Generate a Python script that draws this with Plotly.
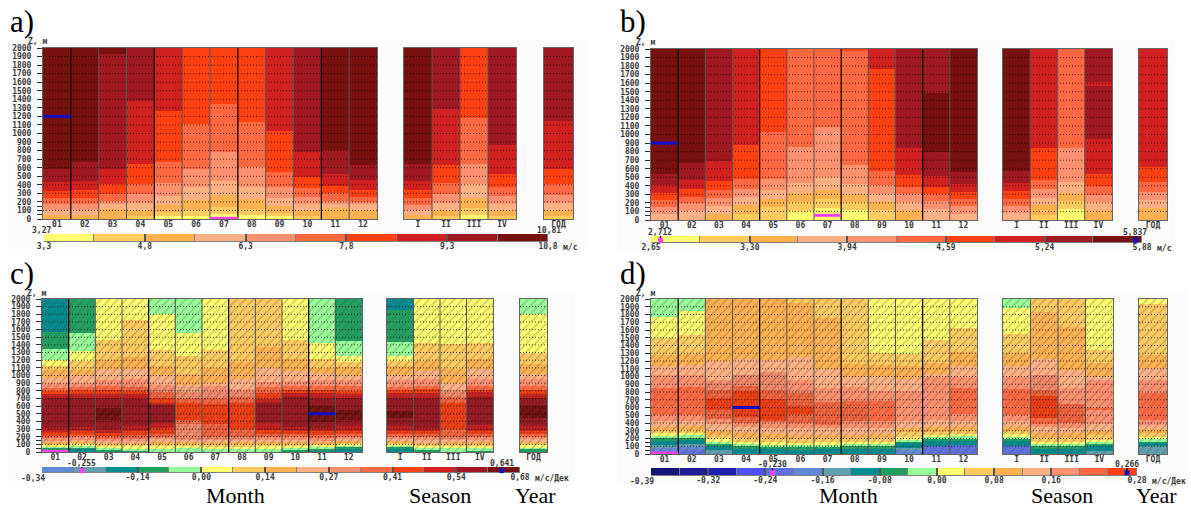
import plotly.graph_objects as go

W, H = 1191, 508

# ---- colour classes ----
PALETTE = {-10: "#14147A", -9: "#201A96", -8: "#2020B0", -7: "#5050FF", -6: "#6070E0", -5: "#6088D8",
           -4: "#60A0B0", -3: "#008C90", -2: "#20A060", -1: "#98FF98",
           0: "#FFFF70", 1: "#FFCB5E", 2: "#FFB04F", 3: "#FFB085", 4: "#FF9070", 5: "#FF6840",
           6: "#FF4010", 7: "#D02020", 8: "#A01822", 9: "#781010"}

MONTHS = ["01", "02", "03", "04", "05", "06", "07", "08", "09", "10", "11", "12"]
SEASONS = ["I", "II", "III", "IV"]
YEAR = ["ГОД"]
Z_TICKS = list(range(0, 2001, 100))

# ---- panel a: (class, top of layer in m) ----
A_MONTHS = [
    [(2,50),(3,110),(4,170),(5,240),(6,330),(7,430),(8,590),(9,2000)],
    [(2,50),(3,110),(4,170),(5,245),(6,340),(7,450),(8,670),(9,2000)],
    [(2,115),(3,175),(4,210),(5,295),(6,415),(7,590),(8,1925),(9,2000)],
    [(1,40),(2,105),(3,190),(4,290),(5,415),(6,645),(7,1380),(8,2000)],
    [(0,30),(1,80),(2,160),(3,270),(4,420),(5,670),(6,1265),(7,2000)],
    [(0,40),(1,110),(2,225),(3,375),(4,585),(5,1110),(6,2000)],
    [(0,60),(1,140),(2,280),(3,445),(4,780),(5,1340),(6,2000)],
    [(0,50),(1,115),(2,235),(3,380),(4,610),(5,1140),(6,2000)],
    [(0,30),(1,70),(2,155),(3,250),(4,380),(5,555),(6,1030),(7,2000)],
    [(1,40),(2,100),(3,180),(4,260),(5,360),(6,490),(7,780),(8,2000)],
    [(2,125),(3,180),(4,215),(5,300),(6,390),(7,525),(8,810),(9,2000)],
    [(2,110),(3,180),(4,200),(5,260),(6,345),(7,455),(8,635),(9,2000)],
]
A_SEASONS = [
    [(2,45),(3,100),(4,165),(5,245),(6,340),(7,450),(8,640),(9,2000)],
    [(1,30),(2,105),(3,190),(4,295),(5,425),(6,635),(7,1290),(8,2000)],
    [(0,50),(1,125),(2,245),(3,410),(4,640),(5,1185),(6,2000)],
    [(1,30),(2,100),(3,180),(4,270),(5,375),(6,525),(7,870),(8,2000)],
]
A_YEAR = [[(1,30),(2,105),(3,190),(4,285),(5,410),(6,590),(7,1150),(8,2000)]]

# ---- panel b ----
B_MONTHS = [
    [(3,65),(4,155),(5,235),(6,315),(7,405),(8,535),(9,2000)],
    [(3,110),(4,200),(5,270),(6,365),(7,470),(8,670),(9,2000)],
    [(2,70),(3,165),(4,260),(5,350),(6,460),(7,685),(8,2000)],
    [(1,70),(2,170),(3,270),(4,360),(5,485),(6,880),(7,2000)],
    [(1,150),(2,245),(3,350),(4,485),(5,1025),(6,2000)],
    [(0,110),(1,205),(2,310),(3,430),(4,855),(5,2000)],
    [(0,135),(1,240),(2,350),(3,500),(4,1085),(5,2000)],
    [(0,115),(1,210),(2,305),(3,420),(4,640),(5,1975),(6,2000)],
    [(1,115),(2,210),(3,300),(4,415),(5,575),(6,1770),(7,2000)],
    [(2,115),(3,215),(4,300),(5,390),(6,525),(7,845),(8,2000)],
    [(3,130),(4,225),(5,300),(6,390),(7,520),(8,790),(9,1480),(8,2000)],
    [(3,70),(4,165),(5,245),(6,330),(7,420),(8,565),(9,2000)],
]
B_SEASONS = [
    [(3,80),(4,165),(5,250),(6,340),(7,430),(8,570),(9,2000)],
    [(1,60),(2,170),(3,260),(4,360),(5,470),(6,845),(7,2000)],
    [(0,125),(1,220),(2,320),(3,450),(4,845),(5,2000)],
    [(2,115),(3,205),(4,295),(5,400),(6,540),(7,950),(8,1565),(7,1615),(8,2000)],
]
B_YEAR = [[(2,140),(3,235),(4,330),(5,440),(6,625),(7,2000)]]

# ---- panel c ----
C_MONTHS = [
    [(-3,35),(-2,60),(-1,75),(0,95),(1,115),(2,135),(3,155),(4,180),(5,215),(6,260),(7,320),(8,710),(7,760),(6,800),(5,840),(4,900),(3,970),(2,1070),(1,1130),(0,1200),(-1,1340),(-2,1570),(-3,2000)],
    [(-3,40),(-2,65),(-1,80),(0,105),(1,125),(2,145),(3,165),(4,190),(5,225),(6,270),(7,330),(8,700),(7,760),(6,810),(5,855),(4,900),(3,990),(2,1075),(1,1190),(0,1320),(-1,1550),(-2,2000)],
    [(-2,30),(-1,50),(0,80),(1,110),(2,130),(3,150),(4,175),(5,210),(6,250),(7,300),(8,420),(9,570),(8,700),(7,760),(6,810),(5,860),(4,940),(3,1090),(2,1200),(1,1470),(0,2000)],
    [(-2,25),(-1,45),(0,75),(1,105),(2,125),(3,150),(4,180),(5,220),(6,270),(7,340),(8,690),(7,760),(6,800),(5,850),(4,950),(3,1090),(2,1240),(1,1720),(0,2000)],
    [(-1,45),(0,75),(1,110),(2,135),(3,165),(4,200),(5,240),(6,310),(7,380),(8,620),(7,640),(6,705),(5,780),(4,880),(3,1010),(2,1130),(1,1330),(0,1800),(-1,2000)],
    [(-1,50),(0,80),(1,110),(2,130),(3,160),(4,360),(5,420),(6,640),(5,700),(4,790),(3,880),(2,1020),(1,1250),(0,1550),(-1,2000)],
    [(-1,50),(0,70),(1,100),(2,125),(3,155),(4,200),(5,370),(6,630),(5,700),(4,860),(3,900),(2,1100),(1,1330),(0,2000)],
    [(-1,45),(0,70),(1,110),(2,130),(3,160),(4,200),(5,300),(6,640),(5,720),(4,830),(3,960),(2,1180),(1,2000)],
    [(-1,45),(0,75),(1,105),(2,130),(3,160),(4,190),(5,240),(6,290),(7,380),(8,640),(7,690),(6,770),(5,850),(4,920),(3,1100),(2,1370),(1,2000)],
    [(-2,30),(-1,50),(0,80),(1,105),(2,130),(3,160),(4,190),(5,230),(6,270),(7,330),(8,720),(7,770),(6,810),(5,860),(4,930),(3,1060),(2,1210),(1,1460),(0,2000)],
    [(-3,25),(-2,50),(-1,70),(0,95),(1,115),(2,135),(3,155),(4,180),(5,220),(6,270),(7,320),(8,390),(9,600),(8,700),(7,770),(6,810),(5,860),(4,940),(3,1030),(2,1100),(1,1210),(0,1430),(-1,2000)],
    [(-3,50),(-2,70),(-1,85),(0,105),(1,125),(2,145),(3,170),(4,200),(5,235),(6,280),(7,340),(8,420),(9,550),(8,700),(7,760),(6,800),(5,860),(4,940),(3,990),(2,1110),(1,1180),(0,1250),(-1,1450),(-2,2000)],
]
C_SEASONS = [
    [(-3,50),(-2,70),(-1,85),(0,105),(1,125),(2,145),(3,170),(4,195),(5,230),(6,275),(7,335),(8,450),(9,530),(8,710),(7,770),(6,810),(5,850),(4,940),(3,1010),(2,1130),(1,1190),(0,1250),(-1,1435),(-2,1855),(-3,2000)],
    [(-2,30),(-1,50),(0,80),(1,110),(2,130),(3,155),(4,190),(5,230),(6,270),(7,320),(8,700),(7,770),(6,820),(5,860),(4,950),(3,1060),(2,1190),(1,1420),(0,2000)],
    [(-1,50),(0,80),(1,110),(2,130),(3,160),(4,200),(5,300),(6,640),(5,720),(4,800),(3,900),(2,1090),(1,1410),(0,2000)],
    [(-2,25),(-1,50),(0,80),(1,110),(2,130),(3,160),(4,190),(5,230),(6,270),(7,350),(8,720),(7,780),(6,810),(5,860),(4,960),(3,1090),(2,1220),(1,1420),(0,2000)],
]
C_YEAR = [[(-2,40),(-1,65),(0,90),(1,120),(2,140),(3,165),(4,195),(5,230),(6,270),(7,340),(8,440),(9,600),(8,700),(7,760),(6,810),(5,860),(4,950),(3,1020),(2,1150),(1,1300),(0,1800),(-1,2000)]]

# ---- panel d ----
D_MONTHS = [
    [(-6,40),(-5,80),(-4,120),(-3,170),(-2,205),(-1,235),(0,265),(1,300),(2,350),(3,420),(4,505),(5,850),(4,1020),(3,1130),(2,1280),(1,1500),(0,1770),(-1,2000)],
    [(-6,50),(-5,90),(-4,130),(-3,180),(-2,210),(-1,240),(0,270),(1,305),(2,355),(3,425),(4,500),(5,860),(4,1020),(3,1150),(2,1290),(1,1530),(0,1840),(-1,2000)],
    [(-4,50),(-3,110),(-2,130),(-1,150),(0,190),(1,240),(2,295),(3,390),(4,450),(5,570),(6,720),(5,830),(4,960),(3,1200),(2,2000)],
    [(-3,70),(-2,110),(-1,125),(0,160),(1,210),(2,270),(3,350),(4,400),(5,480),(6,810),(5,880),(4,1020),(3,1220),(2,2000)],
    [(-3,60),(-2,100),(-1,125),(0,150),(1,200),(2,260),(3,340),(4,420),(5,440),(6,710),(5,830),(4,1040),(3,1210),(2,2000)],
    [(-3,50),(-2,100),(-1,120),(0,145),(1,190),(2,250),(3,340),(4,400),(5,520),(6,620),(5,790),(4,960),(3,1250),(2,1950),(1,2000)],
    [(-3,60),(-2,100),(-1,120),(0,150),(1,190),(2,240),(3,330),(4,380),(5,670),(4,850),(3,1100),(2,1750),(1,2000)],
    [(-3,70),(-2,110),(-1,130),(0,150),(1,200),(2,250),(3,330),(4,420),(5,680),(4,860),(3,1000),(2,1160),(1,2000)],
    [(-3,60),(-2,110),(-1,130),(0,160),(1,200),(2,260),(3,330),(4,420),(5,690),(4,810),(3,990),(2,1150),(1,1300),(0,2000)],
    [(-5,60),(-4,80),(-3,150),(-2,165),(-1,180),(0,220),(1,280),(2,330),(3,430),(4,810),(3,970),(2,1130),(1,1290),(0,2000)],
    [(-6,100),(-3,170),(-2,200),(-1,230),(0,250),(1,290),(2,350),(3,440),(4,1000),(3,1030),(2,1170),(1,1470),(0,2000)],
    [(-6,110),(-3,170),(-2,200),(-1,235),(0,260),(1,300),(2,350),(3,430),(4,510),(5,850),(4,1000),(3,1130),(2,1320),(1,1620),(0,2000)],
]
D_SEASONS = [
    [(-6,100),(-3,170),(-2,200),(-1,225),(0,255),(1,300),(2,350),(3,420),(4,500),(5,840),(4,1000),(3,1130),(2,1300),(1,1550),(0,1880),(-1,2000)],
    [(-3,60),(-2,100),(-1,130),(0,160),(1,210),(2,270),(3,350),(4,390),(5,460),(6,750),(5,830),(4,1020),(3,1220),(2,1830),(1,2000)],
    [(-3,60),(-2,100),(-1,130),(0,150),(1,200),(2,270),(3,340),(4,400),(5,640),(4,850),(3,1090),(2,1635),(1,2000)],
    [(-4,40),(-3,100),(-2,130),(-1,150),(0,180),(1,240),(2,300),(3,390),(4,580),(5,600),(4,960),(3,1000),(2,1180),(1,1340),(0,2000)],
]
D_YEAR = [[(-4,105),(-3,150),(-2,165),(-1,190),(0,220),(1,265),(2,320),(3,380),(4,440),(5,790),(4,960),(3,1110),(2,1280),(1,1940),(0,2000)]]

# ---- significance: dense stipple z-ranges ----
C_SIG_M = [(230,760),(230,790),(200,830),(170,880),(180,840),(160,850),(170,800),(170,800),(200,800),(220,820),(240,810),(240,790)]
C_SIG_S = [(240,790),(200,830),(170,820),(190,840)]
C_SIG_Y = [(230,810)]
D_SIG_M = [None,None,(440,930),(400,1030),(410,1060),(400,820),(400,660),(400,640),None,None,None,None]
D_SIG_S = [None,(460,1020),(400,640),None]
D_SIG_Y = [None]

# ---- colour bars ----
A_EDGES = [3.3,4.05,4.8,5.55,6.3,7.05,7.8,8.55,9.3,10.05,10.8]
A_CLASSES = [0,1,2,3,4,5,6,7,8,9]
A_TICKS = [3.3,4.8,6.3,7.8,9.3,10.8]
A_LABELS = ["3,3","4,8","6,3","7,8","9,3","10,8"]
B_EDGES = [2.65,2.97,3.30,3.62,3.94,4.27,4.59,4.91,5.24,5.56,5.88]
B_CLASSES = [0,1,2,3,4,5,6,7,8,9]
B_TICKS = [2.65,3.30,3.94,4.59,5.24,5.88]
B_LABELS = ["2,65","3,30","3,94","4,59","5,24","5,88"]
C_EDGES = [-0.34,-0.272,-0.204,-0.136,-0.068,0,0.068,0.136,0.204,0.272,0.34,0.408,0.476,0.544,0.612,0.68]
C_CLASSES = [-5,-4,-3,-2,-1,0,1,2,3,4,5,6,7,8,9]
C_TICKS = [-0.34,-0.136,0,0.136,0.272,0.408,0.544,0.68]
C_LABELS = ["-0,34","-0,14","0,00","0,14","0,27","0,41","0,54","0,68"]
D_EDGES = [-0.40,-0.36,-0.32,-0.28,-0.24,-0.20,-0.16,-0.12,-0.08,-0.04,0,0.04,0.08,0.12,0.16,0.20,0.24,0.28]
D_CLASSES = [-10,-9,-8,-7,-6,-5,-4,-3,-2,-1,0,1,2,3,4,5,6]
D_TICKS = [-0.40,-0.32,-0.24,-0.16,-0.08,0,0.08,0.16,0.28]
D_LABELS = ["-0,39","-0,32","-0,24","-0,16","-0,08","0,00","0,08","0,16","0,28"]

# extremes: (column, height m), colour-bar value, label
A_EXT = dict(maxc=0, maxz=1200, minc=6, minz=8, vmin=3.27, vmax=10.81, tmin="3,27", tmax="10,81", unit="м/с")
B_EXT = dict(maxc=0, maxz=900, minc=6, minz=55, vmin=2.712, vmax=5.837, tmin="2,712", tmax="5,837", unit="м/с")
C_EXT = dict(maxc=10, maxz=500, minc=0, minz=8, vmin=-0.255, vmax=0.641, tmin="-0,255", tmax="0,641", unit="м/с/Дек")
D_EXT = dict(maxc=3, maxz=600, minc=0, minz=12, vmin=-0.230, vmax=0.266, tmin="-0,230", tmax="0,266", unit="м/с/Дек")

# ---- page geometry (pixels) ----
PANELS = [
    dict(name="a)", lx=8, ly=16, bg=(8,40,585,250), y=(48,219), m=(43,377), s=(404,516), yr=(544,573), cb=(44,548), cby=(234,242),
         data=(A_MONTHS,A_SEASONS,A_YEAR), sig=None, edges=A_EDGES, classes=A_CLASSES, ticks=A_TICKS, labels=A_LABELS, ext=A_EXT, minus=False),
    dict(name="b)", lx=618, ly=16, bg=(617,40,1175,253), y=(49,220), m=(651,977), s=(1003,1112), yr=(1139,1167), cb=(651,1142), cby=(236,243),
         data=(B_MONTHS,B_SEASONS,B_YEAR), sig=None, edges=B_EDGES, classes=B_CLASSES, ticks=B_TICKS, labels=B_LABELS, ext=B_EXT, minus=False),
    dict(name="c)", lx=8, ly=268, bg=(8,291,575,482), y=(299,452), m=(42,362), s=(387,493), yr=(520,547), cb=(42,520), cby=(467,473),
         data=(C_MONTHS,C_SEASONS,C_YEAR), sig=(C_SIG_M,C_SIG_S,C_SIG_Y), edges=C_EDGES, classes=C_CLASSES, ticks=C_TICKS, labels=C_LABELS, ext=C_EXT, minus=True),
    dict(name="d)", lx=618, ly=268, bg=(617,291,1188,484), y=(299,454), m=(651,977), s=(1003,1113), yr=(1139,1167), cb=(651,1137), cby=(468,476),
         data=(D_MONTHS,D_SEASONS,D_YEAR), sig=(D_SIG_M,D_SIG_S,D_SIG_Y), edges=D_EDGES, classes=D_CLASSES, ticks=D_TICKS, labels=D_LABELS, ext=D_EXT, minus=True),
]
CAPTIONS = [("Month",235),("Season",440),("Year",535),("Month",848),("Season",1062),("Year",1156)]

MONO = "DejaVu Sans Mono"
TXT = "#3a3a3a"
FRAME = "#666666"
FS = 8

fig = go.Figure()
layout = dict(width=W, height=H, margin=dict(l=0,r=0,t=0,b=0,autoexpand=False), autosize=False, showlegend=False,
              paper_bgcolor="white", plot_bgcolor="rgba(0,0,0,0)", barmode="overlay", bargap=0,
              shapes=[], annotations=[])
counter = [0]

def px(x): return x / W
def py(y): return 1 - y / H

def new_axes(xr, yr):
    counter[0] += 1
    n = counter[0]
    s = "" if n == 1 else str(n)
    layout["xaxis"+s] = dict(domain=[px(xr[0]),px(xr[1])], anchor="y"+s, showgrid=False, zeroline=False)
    layout["yaxis"+s] = dict(domain=[py(yr[1]),py(yr[0])], anchor="x"+s, showgrid=False, zeroline=False)
    return "x"+s, "y"+s, "xaxis"+s, "yaxis"+s

def text(t, x, y, size=FS, family=MONO, color=TXT, xanchor="center", yanchor="middle", weight="bold"):
    layout["annotations"].append(dict(text=t, x=px(x), y=py(y), xref="paper", yref="paper", showarrow=False,
                                      xanchor=xanchor, yanchor=yanchor, font=dict(family=family,size=size,color=color,weight=weight)))

def column_plot(xr, yr, cols, labels, sig, hatch, with_y, black_every=None, marks=()):
    xa, ya, xn, yn = new_axes(xr, yr)
    xs, base, hgt, colr = [], [], [], []
    for i, col in enumerate(cols):
        lo = 0
        for c, top in col:
            xs.append(i); base.append(lo); hgt.append(top-lo); colr.append(PALETTE[c]); lo = top
    fig.add_trace(go.Bar(x=xs, y=hgt, base=base, width=1, marker=dict(color=colr, line=dict(width=0)), xaxis=xa, yaxis=ya, hoverinfo="skip"))
    idx = list(range(len(cols)))
    if hatch:
        fig.add_trace(go.Bar(x=idx, y=[2000]*len(cols), base=[0]*len(cols), width=1, xaxis=xa, yaxis=ya, hoverinfo="skip",
                             marker=dict(color="rgba(0,0,0,0)", line=dict(width=0),
                                         pattern=dict(shape="/", size=6, solidity=0.2, fgcolor="rgba(80,80,80,0.7)", fillmode="overlay", bgcolor="rgba(0,0,0,0)"))))
    if sig:
        sx = [i for i, r in enumerate(sig) if r]
        fig.add_trace(go.Bar(x=sx, y=[sig[i][1]-sig[i][0] for i in sx], base=[sig[i][0] for i in sx], width=1, xaxis=xa, yaxis=ya, hoverinfo="skip",
                             marker=dict(color="rgba(0,0,0,0)", line=dict(width=0),
                                         pattern=dict(shape=".", size=3, solidity=0.35, fgcolor="rgba(40,10,10,0.45)", fillmode="overlay", bgcolor="rgba(0,0,0,0)"))))
    # dotted level lines
    gx, gy = [], []
    for z in Z_TICKS[1:-1]:
        gx += [-0.5, len(cols)-0.5, None]; gy += [z, z, None]
    fig.add_trace(go.Scatter(x=gx, y=gy, mode="lines", line=dict(color="rgba(0,0,0,0.7)", width=1, dash="1px,2px"), xaxis=xa, yaxis=ya, hoverinfo="skip"))
    # separators
    dx, dy, bx, by = [], [], [], []
    for i in range(1, len(cols)):
        if black_every and i % 3 == 1:
            bx += [i-0.5, i-0.5, None]; by += [0, 2000, None]
        else:
            dx += [i-0.5, i-0.5, None]; dy += [0, 2000, None]
    if dx:
        fig.add_trace(go.Scatter(x=dx, y=dy, mode="lines", line=dict(color="#555555", width=1), xaxis=xa, yaxis=ya, hoverinfo="skip"))
    if bx:
        fig.add_trace(go.Scatter(x=bx, y=by, mode="lines", line=dict(color="#000000", width=1.2), xaxis=xa, yaxis=ya, hoverinfo="skip"))
    for c, z, color in marks:
        fig.add_trace(go.Scatter(x=[c-0.5, c+0.5], y=[z, z], mode="lines", line=dict(color=color, width=3), xaxis=xa, yaxis=ya, hoverinfo="skip", cliponaxis=False))
    layout[xn].update(range=[-0.5,len(cols)-0.5], tickvals=idx, ticktext=labels, ticks="", showline=True, mirror=True, linecolor=FRAME, linewidth=1,
                      ticklabelstandoff=-3, tickfont=dict(family=MONO,size=FS,color=TXT,weight="bold"))
    yargs = dict(range=[0,2000], showline=True, mirror=True, linecolor=FRAME, linewidth=1)
    if with_y:
        yargs.update(tickvals=[50,150]+Z_TICKS, ticktext=["",""]+[str(z) for z in Z_TICKS], ticks="outside", ticklen=5, tickcolor="#333333",
                     ticklabelstandoff=4, tickfont=dict(family=MONO,size=FS,color=TXT,weight="bold"))
    else:
        yargs.update(showticklabels=False, ticks="")
    layout[yn].update(**yargs)

for p in PANELS:
    b = p["bg"]
    layout["shapes"].append(dict(type="rect", xref="paper", yref="paper", x0=px(b[0]), x1=px(b[2]), y0=py(b[3]), y1=py(b[1]),
                                 fillcolor="#FCFCFC", line=dict(width=0), layer="below"))
    text(p["name"], p["lx"], p["ly"]+5, size=31, family="Liberation Serif", color="black", xanchor="left", weight="normal")
    m, s, y_ = p["data"]
    sig = p["sig"] or (None, None, None)
    hatch = p["sig"] is not None
    e = p["ext"]
    column_plot(p["m"], p["y"], m, MONTHS, sig[0], hatch, True, black_every=True,
                marks=[(e["maxc"], e["maxz"], "#1010C0"), (e["minc"], e["minz"], "#FF40F0")])
    column_plot(p["s"], p["y"], s, SEASONS, sig[1], hatch, False)
    column_plot(p["yr"], p["y"], y_, YEAR, sig[2], hatch, False)
    text("Z, м", p["m"][0]-6, p["y"][0]-6)
    # colour bar
    xa, ya, xn, yn = new_axes(p["cb"], p["cby"])
    ed = p["edges"]
    fig.add_trace(go.Bar(x=[ed[i+1]-ed[i] for i in range(len(ed)-1)], y=[0]*(len(ed)-1), base=ed[:-1], width=1, orientation="h",
                         marker=dict(color=[PALETTE[c] for c in p["classes"]], line=dict(color="#808080", width=1)),
                         xaxis=xa, yaxis=ya, hoverinfo="skip"))
    for v, col, t in ((e["vmin"], "#FF40F0", e["tmin"]), (e["vmax"], "#1010C0", e["tmax"])):
        fig.add_trace(go.Scatter(x=[v, v], y=[0, 0.95], mode="lines", line=dict(color="black", width=1.5), xaxis=xa, yaxis=ya, cliponaxis=False, hoverinfo="skip"))
        fig.add_trace(go.Scatter(x=[v], y=[-0.1], mode="markers", marker=dict(symbol="square", size=5, color=col), xaxis=xa, yaxis=ya, cliponaxis=False, hoverinfo="skip"))
        frac = (v-ed[0])/(ed[-1]-ed[0])
        text(t, p["cb"][0]+frac*(p["cb"][1]-p["cb"][0]), p["cby"][0]-4)
    tl = list(p["labels"])
    if p["minus"]:
        text(tl[0], p["cb"][0]-9, p["cby"][1]+5)
        tl[0] = ""
    layout[xn].update(range=[ed[0],ed[-1]], tickvals=p["ticks"], ticktext=tl, ticks="inside", ticklen=p["cby"][1]-p["cby"][0], tickcolor="#555555", tickwidth=1.5,
                      ticklabelstandoff=-2, showline=False, tickfont=dict(family=MONO,size=FS,color=TXT,weight="bold"))
    layout[yn].update(range=[-0.5,0.5], showticklabels=False, ticks="", showline=False)
    text(e["unit"], p["cb"][1]+13, p["cby"][1]+5, xanchor="left")

for t, x in CAPTIONS:
    text(t, x, 495, size=22, family="Liberation Serif", color="black", weight="normal")

fig.update_layout(**layout)
fig.write_html("out.html", config=dict(displayModeBar=False), post_script="document.body.style.margin='0';document.body.style.overflow='hidden';")
